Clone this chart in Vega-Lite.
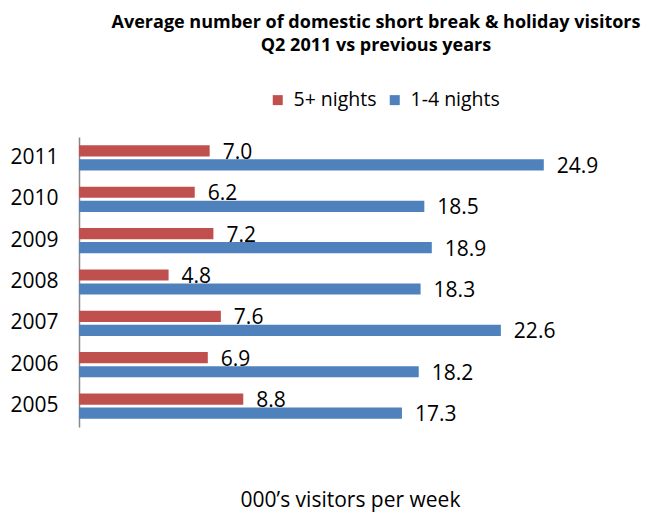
{
  "$schema": "https://vega.github.io/schema/vega-lite/v6.json",
  "width": 560,
  "height": 290,
  "autosize": {"type": "none"},
  "padding": {"left": 79, "top": 137, "right": 6, "bottom": 87},
  "background": "white",
  "config": {
    "font": "Open Sans",
    "view": {"stroke": null}
  },
  "title": {
    "text": ["Average number of domestic short break & holiday visitors", "Q2 2011 vs previous years"],
    "fontSize": 18,
    "fontWeight": "bold",
    "font": "Open Sans",
    "color": "#000000",
    "anchor": "middle",
    "frame": "group",
    "dx": 17,
    "offset": 35,
    "lineHeight": 23
  },
  "data": {
    "values": [
      {"year": "2011", "series": "5+ nights", "value": 7.0},
      {"year": "2011", "series": "1-4 nights", "value": 24.9},
      {"year": "2010", "series": "5+ nights", "value": 6.2},
      {"year": "2010", "series": "1-4 nights", "value": 18.5},
      {"year": "2009", "series": "5+ nights", "value": 7.2},
      {"year": "2009", "series": "1-4 nights", "value": 18.9},
      {"year": "2008", "series": "5+ nights", "value": 4.8},
      {"year": "2008", "series": "1-4 nights", "value": 18.3},
      {"year": "2007", "series": "5+ nights", "value": 7.6},
      {"year": "2007", "series": "1-4 nights", "value": 22.6},
      {"year": "2006", "series": "5+ nights", "value": 6.9},
      {"year": "2006", "series": "1-4 nights", "value": 18.2},
      {"year": "2005", "series": "5+ nights", "value": 8.8},
      {"year": "2005", "series": "1-4 nights", "value": 17.3}
    ]
  },
  "encoding": {
    "y": {
      "field": "year",
      "type": "nominal",
      "sort": ["2011", "2010", "2009", "2008", "2007", "2006", "2005"],
      "scale": {"paddingInner": 0.39, "paddingOuter": 0.2},
      "axis": {
        "title": null,
        "ticks": false,
        "labelFontSize": 21,
        "labelColor": "#000000",
        "labelPadding": 21,
        "domainColor": "#888888",
        "domainWidth": 1.5,
        "grid": false
      }
    },
    "yOffset": {
      "field": "series",
      "type": "nominal",
      "sort": ["5+ nights", "1-4 nights"],
      "scale": {"paddingInner": 0.2, "paddingOuter": 0}
    },
    "x": {
      "field": "value",
      "type": "quantitative",
      "scale": {"domain": [0, 30], "nice": false},
      "axis": {
        "title": "000\u2019s visitors per week",
        "titleFontSize": 21,
        "titleFontWeight": "normal",
        "titleColor": "#000000",
        "titlePadding": 62,
        "titleX": 271,
        "labels": false,
        "ticks": false,
        "domain": false,
        "grid": false
      }
    }
  },
  "layer": [
    {
      "mark": {"type": "bar"},
      "encoding": {
        "color": {
          "field": "series",
          "type": "nominal",
          "sort": ["5+ nights", "1-4 nights"],
          "scale": {"domain": ["5+ nights", "1-4 nights"], "range": ["#C0504D", "#4F81BD"]},
          "legend": {
            "title": null,
            "orient": "none",
            "direction": "horizontal",
            "legendX": 189,
            "legendY": -47,
            "symbolType": "square",
            "symbolSize": 100,
            "symbolStrokeWidth": 0,
            "labelFontSize": 19.5,
            "labelColor": "#000000",
            "labelOffset": 6,
            "columnPadding": 8,
            "padding": 0
          }
        }
      }
    },
    {
      "mark": {"type": "text", "align": "left", "baseline": "middle", "dx": 13, "dy": 2, "fontSize": 21, "color": "#000000"},
      "encoding": {
        "text": {"field": "value", "type": "quantitative", "format": ".1f"}
      }
    }
  ]
}
